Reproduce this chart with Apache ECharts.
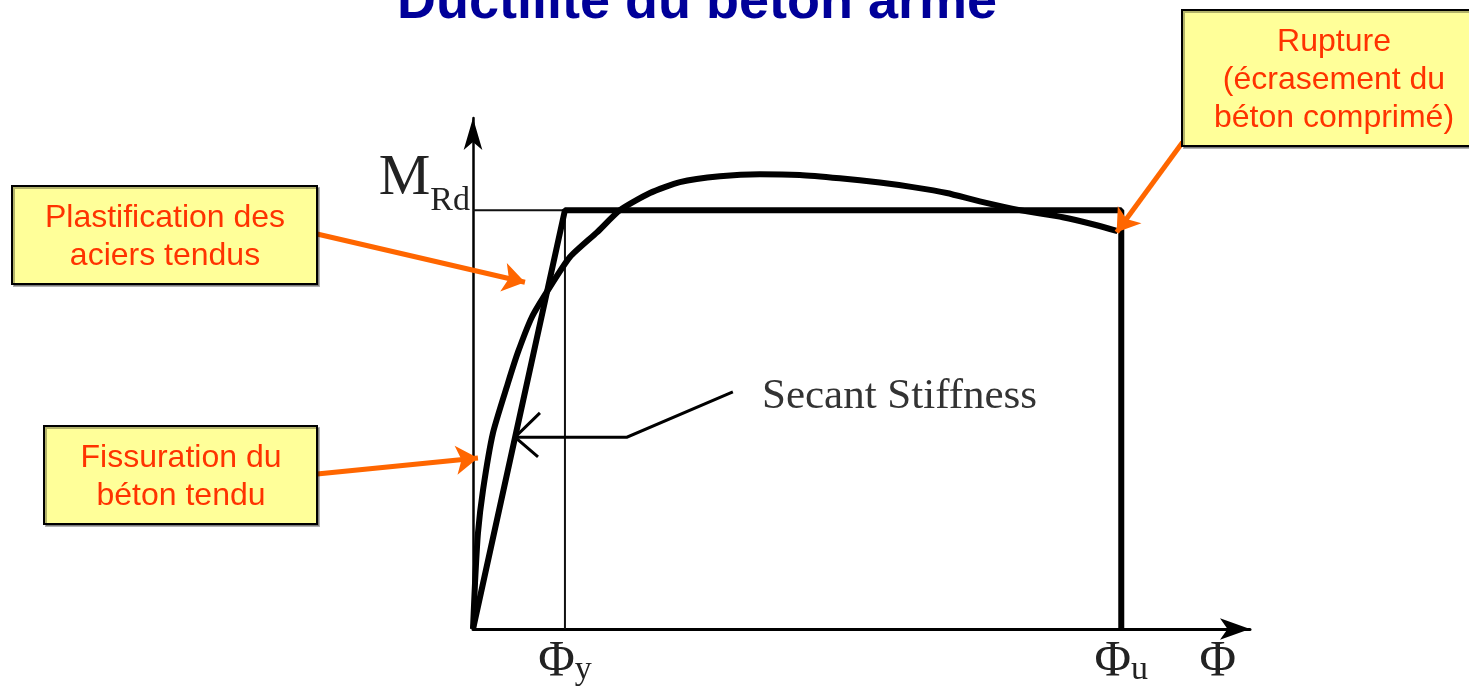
<!DOCTYPE html>
<html>
<head>
<meta charset="utf-8">
<title>Ductilité du béton armé</title>
<script src="https://cdn.jsdelivr.net/npm/echarts@6/dist/echarts.min.js"></script>
<style>
  html, body { margin: 0; padding: 0; background: #fff; }
  #chart { width: 1469px; height: 691px; }
</style>
</head>
<body>
<div id="chart"></div>
<script>
// moment-curvature curve (phi in units of phi_y, M in units of M_Rd)
const curvePhi = [0, 0.022, 0.054, 0.109, 0.217, 0.38, 0.489, 0.641, 0.815, 1.054, 1.348, 1.598,
  1.924, 2.25, 2.685, 3.12, 3.554, 3.989, 4.424, 4.783, 5.152, 5.511, 5.946, 6.413, 6.783, 7.01];
const curveM = [0, 0.11, 0.229, 0.332, 0.468, 0.587, 0.661, 0.745, 0.809, 0.888, 0.947, 1.0,
  1.041, 1.067, 1.081, 1.086, 1.084, 1.076, 1.066, 1.055, 1.041, 1.021, 1.0, 0.983, 0.964, 0.95];

// idealised bilinear law
const phiY = 1;
const phiU = 7.05;
const mRd = 1;
const bilinearPhi = [0, phiY, phiU, phiU];
const bilinearM = [0, mRd, mRd, 0];

// axis labels
const xTickValues = [phiY, phiU, 8.1];
const xTickSubs = ['y', 'u', ''];
const yTickValues = [mRd];

// secant stiffness pointer [phi, M]
const secantLeader = [[2.826, 0.566], [1.674, 0.458], [0.457, 0.458]];
const secantHead = [[0.728, 0.516], [0.457, 0.458], [0.707, 0.411]];

// orange callout arrows [from, to]
const calloutArrows = [
  [[-1.696, 0.943], [0.565, 0.828]],
  [[-1.696, 0.37], [0.054, 0.408]],
  [[7.717, 1.162], [7.0, 0.947]]
];

const calloutTexts = [
  'Plastification des\naciers tendus',
  'Fissuration du\nbéton tendu',
  'Rupture\n(écrasement du\nbéton comprimé)'
];

const zip = (xs, ys) => xs.map((x, i) => [x, ys[i]]);

const chart = echarts.init(document.getElementById('chart'));

const serif = '"Liberation Serif", "DejaVu Serif", serif';
const sans = '"Liberation Sans", Arial, sans-serif';

const boxStyle = { fill: '#FFFF99', stroke: '#000', lineWidth: 2, shadowColor: 'rgba(0,0,0,0.3)', shadowOffsetX: 2, shadowOffsetY: 2 };
const boxText = { fill: '#FF3300', font: '32px ' + sans, align: 'center', verticalAlign: 'middle', lineHeight: 38 };

const option = {
  animation: false,
  backgroundColor: '#fff',
  grid: { left: 473, right: 219, top: 118, bottom: 62 },
  xAxis: {
    type: 'value',
    min: 0,
    max: 8.45,
    splitLine: { show: false },
    axisTick: { show: false },
    axisLine: {
      onZero: false,
      symbol: ['none', 'arrow'],
      symbolSize: [16, 30],
      lineStyle: { color: '#000', width: 3 }
    },
    axisLabel: {
      customValues: xTickValues,
      hideOverlap: false,
      margin: 8,
      formatter: (v) => {
        const k = xTickValues.indexOf(v);
        const sub = k >= 0 ? xTickSubs[k] : '';
        return sub ? '{p|Φ}{s|' + sub + '}' : '{p|Φ}';
      },
      rich: {
        p: { fontFamily: serif, fontSize: 50, color: '#222', verticalAlign: 'bottom' },
        s: { fontFamily: serif, fontSize: 34, color: '#222', verticalAlign: 'bottom' }
      }
    }
  },
  yAxis: {
    type: 'value',
    min: 0,
    max: 1.22,
    splitLine: { show: false },
    axisTick: { show: false },
    axisLine: {
      onZero: false,
      symbol: ['none', 'arrow'],
      symbolSize: [14, 32],
      lineStyle: { color: '#000', width: 2.5 }
    },
    axisLabel: {
      customValues: yTickValues,
      margin: 3,
      verticalAlign: 'bottom',
      padding: [0, 0, -8, 0],
      formatter: () => '{m|M}{s|Rd}',
      rich: {
        m: { fontFamily: serif, fontSize: 58, color: '#222', verticalAlign: 'bottom', padding: [0, 0, 10, 0] },
        s: { fontFamily: serif, fontSize: 34, color: '#222', verticalAlign: 'bottom' }
      }
    }
  },
  series: [
    {
      type: 'line',
      name: 'guides',
      data: [[0, mRd], [phiY, mRd], [phiY, 0]],
      showSymbol: false,
      lineStyle: { color: '#111', width: 2 },
      z: 2
    },
    {
      type: 'line',
      name: 'bilinear',
      data: zip(bilinearPhi, bilinearM),
      showSymbol: false,
      lineStyle: { color: '#000', width: 6 },
      z: 3
    },
    {
      type: 'line',
      name: 'curve',
      data: zip(curvePhi, curveM),
      smooth: 0.2,
      showSymbol: false,
      lineStyle: { color: '#000', width: 6 },
      z: 3
    },
    {
      type: 'lines',
      name: 'secant',
      coordinateSystem: 'cartesian2d',
      polyline: true,
      clip: false,
      symbol: 'none',
      lineStyle: { color: '#000', width: 3, opacity: 1 },
      data: [{ coords: secantLeader }, { coords: secantHead }],
      z: 4
    },
    {
      type: 'lines',
      name: 'callouts',
      coordinateSystem: 'cartesian2d',
      clip: false,
      symbol: ['none', 'arrow'],
      symbolSize: [20, 22],
      lineStyle: { color: '#FF6600', width: 5, opacity: 1 },
      data: calloutArrows.map((c) => ({ coords: c })),
      z: 5
    }
  ],
  graphic: [
    {
      type: 'text',
      x: 697,
      y: 3,
      style: { text: 'Ductilité du béton armé', fill: '#000099', font: 'bold 54px ' + sans, align: 'center', verticalAlign: 'middle' }
    },
    {
      type: 'text',
      x: 762,
      y: 397,
      style: { text: 'Secant Stiffness', fill: '#333', font: '43px ' + serif, align: 'left', verticalAlign: 'middle' }
    },
    { type: 'rect', shape: { x: 12, y: 186, width: 305, height: 98 }, style: boxStyle, z: 10 },
    { type: 'text', x: 165, y: 237, style: Object.assign({ text: calloutTexts[0] }, boxText), z: 11 },
    { type: 'rect', shape: { x: 44, y: 426, width: 273, height: 98 }, style: boxStyle, z: 10 },
    { type: 'text', x: 181, y: 477, style: Object.assign({ text: calloutTexts[1] }, boxText), z: 11 },
    { type: 'rect', shape: { x: 1182, y: 10, width: 320, height: 136 }, style: boxStyle, z: 10 },
    { type: 'text', x: 1334, y: 80, style: Object.assign({ text: calloutTexts[2] }, boxText), z: 11 }
  ]
};

chart.setOption(option);
</script>
</body>
</html>
